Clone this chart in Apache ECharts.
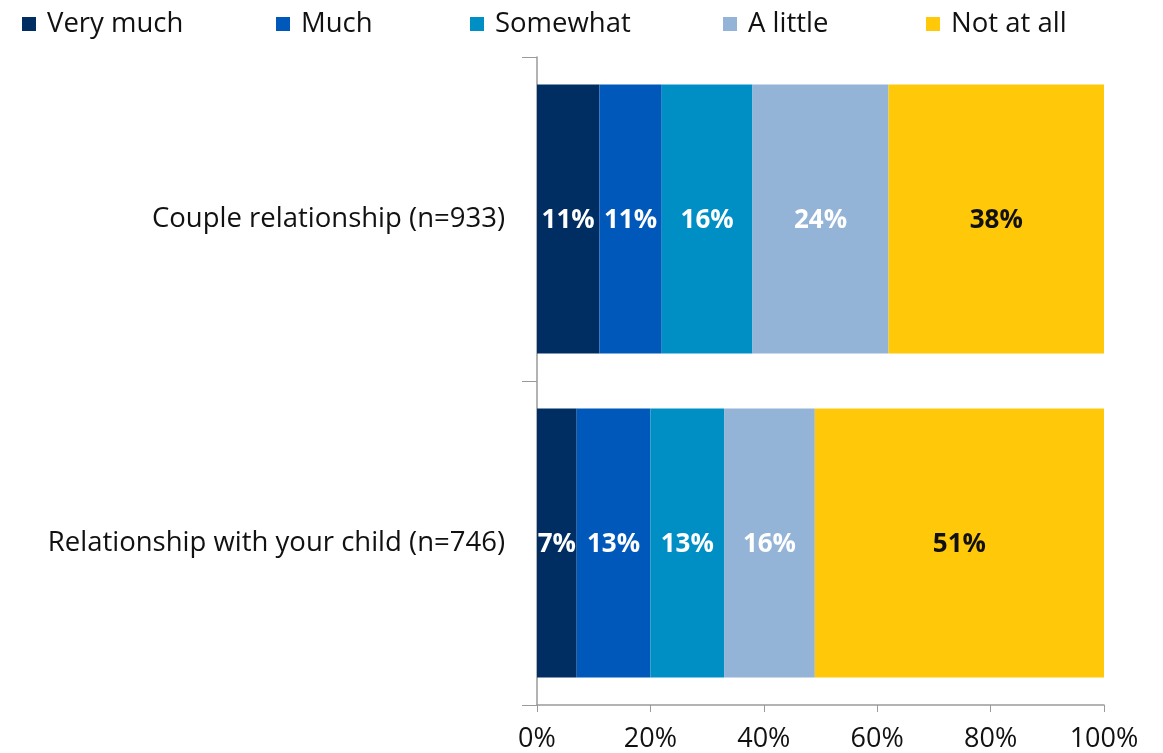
<!DOCTYPE html>
<html><head><meta charset="utf-8">
<script src="https://cdn.jsdelivr.net/npm/echarts@6/dist/echarts.min.js"></script>
<style>html,body{margin:0;padding:0;background:#fff}#c{width:1163px;height:753px}</style>
</head><body><div id="c"></div>
<script>
const categories = ['Couple relationship (n=933)', 'Relationship with your child (n=746)'];
const seriesNames = ['Very much', 'Much', 'Somewhat', 'A little', 'Not at all'];
const veryMuch = [11, 7];
const much = [11, 13];
const somewhat = [16, 13];
const aLittle = [24, 16];
const notAtAll = [38, 51];
const xTicks = [0, 20, 40, 60, 80, 100];

const values = [veryMuch, much, somewhat, aLittle, notAtAll];
const colors = ['#002D62', '#0059BA', '#008FC5', '#93B3D7', '#FFC90A'];
const labelColors = ['#fff', '#fff', '#fff', '#fff', '#111'];
const legendLeft = [22, 276, 470, 723, 926];
const FONT = 'Open Sans';

const chart = echarts.init(document.getElementById('c'));
chart.setOption({
  animation: false,
  textStyle: { fontFamily: FONT },
  grid: { left: 537, right: 59, top: 57, bottom: 48 },
  legend: seriesNames.map((n, i) => ({
    data: [n], left: legendLeft[i], top: 10, padding: 0, icon: 'rect', itemWidth: 14, itemHeight: 14,
    textStyle: { fontFamily: FONT, fontSize: 27.5, color: '#111', padding: [0, 0, 0, 6] }
  })),
  xAxis: {
    type: 'value', min: 0, max: 100, interval: 20,
    axisLine: { show: true, lineStyle: { color: '#9a9a9a', width: 1.5 } },
    axisTick: { show: true, length: 7, lineStyle: { color: '#9a9a9a' } },
    splitLine: { show: false },
    axisLabel: { formatter: v => v + '%', fontSize: 27, color: '#111', margin: 21, fontFamily: FONT }
  },
  yAxis: {
    type: 'category', data: categories, inverse: true,
    axisLine: { show: true, lineStyle: { color: '#9a9a9a', width: 1.5 } },
    axisTick: { show: true, length: 15, alignWithLabel: false, lineStyle: { color: '#9a9a9a' } },
    axisLabel: { fontSize: 27.5, color: '#111', margin: 32, fontFamily: FONT, padding: [5, 0, 0, 0] }
  },
  series: seriesNames.map((n, i) => ({
    name: n, type: 'bar', stack: 'total', data: values[i], barCategoryGap: '17%',
    itemStyle: { color: colors[i] },
    label: { show: true, position: 'inside', offset: [0, 2], formatter: p => p.value + '%', color: labelColors[i],
      fontWeight: 'bold', fontSize: 26, fontFamily: FONT }
  }))
});
</script></body></html>
